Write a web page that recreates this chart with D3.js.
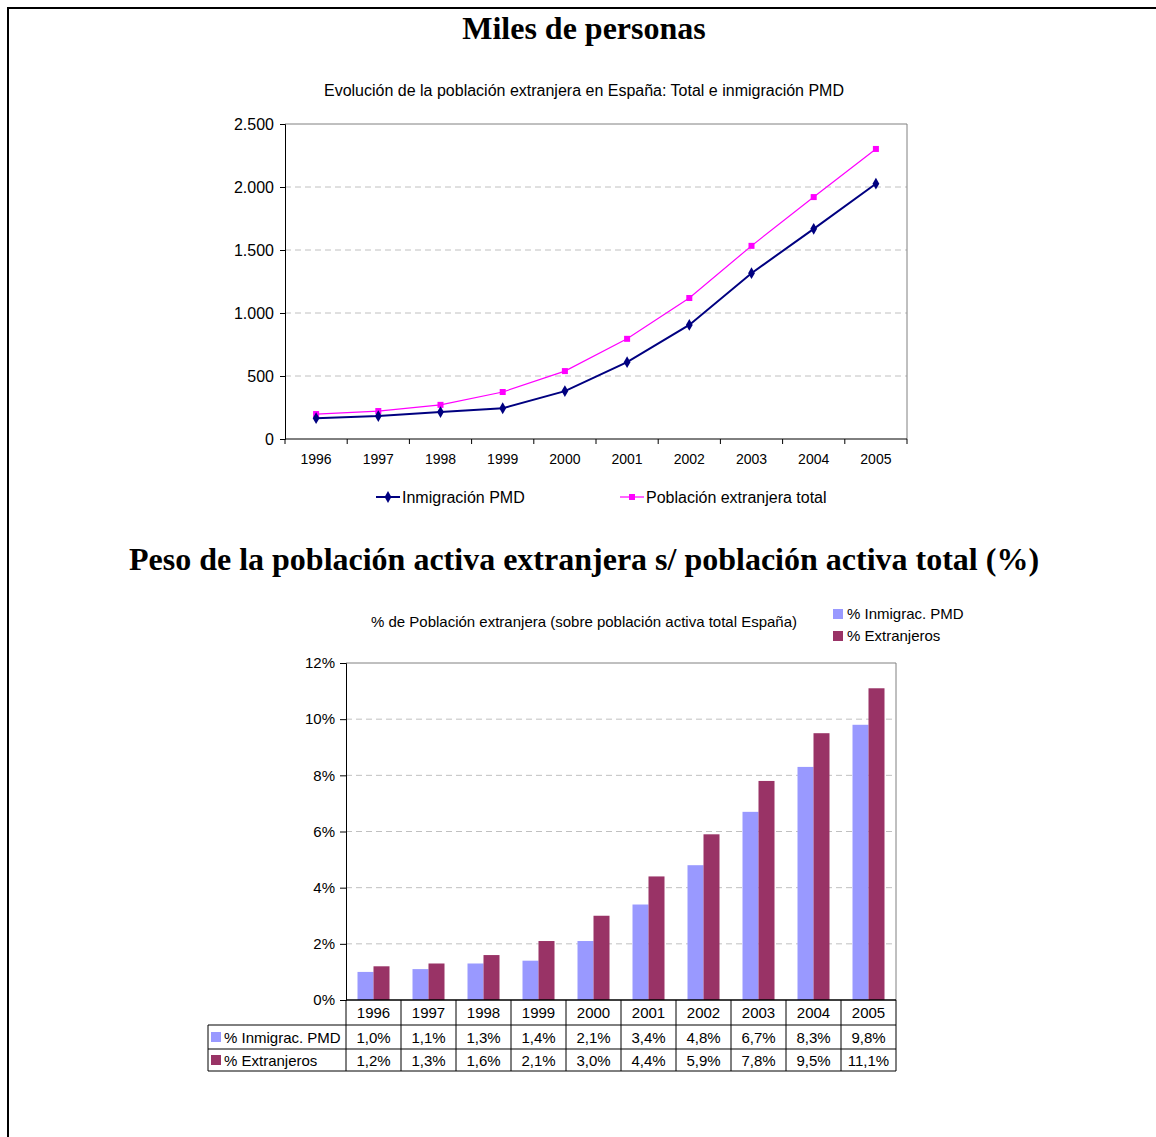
<!DOCTYPE html>
<html><head><meta charset="utf-8">
<script src="https://cdn.jsdelivr.net/npm/d3@7"></script>
<style>
html,body{margin:0;padding:0;background:#fff;}
svg{display:block;}
text{font-family:"Liberation Sans",Arial,sans-serif;fill:#000;}
.serif{font-family:"Liberation Serif","Times New Roman",serif;font-weight:bold;}
</style></head>
<body>
<svg id="c" width="1156" height="1137"></svg>
<script>
// ---- data ----
const years = ["1996","1997","1998","1999","2000","2001","2002","2003","2004","2005"];
const inmigracionPMD = [165, 182, 214, 244, 380, 610, 905, 1316, 1668, 2026];
const poblacionTotal = [198, 222, 271, 373, 539, 795, 1119, 1533, 1920, 2302];
const yTicksTop = [0, 500, 1000, 1500, 2000, 2500];
const pctInmigrac = [1.0, 1.1, 1.3, 1.4, 2.1, 3.4, 4.8, 6.7, 8.3, 9.8];
const pctExtranjeros = [1.2, 1.3, 1.6, 2.1, 3.0, 4.4, 5.9, 7.8, 9.5, 11.1];
const yTicksBottom = [0, 2, 4, 6, 8, 10, 12];
const seriesTop = ["Inmigración PMD", "Población extranjera total"];
const seriesBottom = ["% Inmigrac. PMD", "% Extranjeros"];

const svg = d3.select("#c");
const fmtES = d => d3.format(",")(d).replace(/,/g, ".");
const fmtPct = d => d.toFixed(1).replace(".", ",") + "%";

// page border
svg.append("path").attr("d","M8,1137 L8,8 L1156,8").attr("fill","none").attr("stroke","#000").attr("stroke-width",2);

// titles
svg.append("text").attr("class","serif").attr("x",584).attr("y",39).attr("text-anchor","middle").attr("font-size",32).text("Miles de personas");
svg.append("text").attr("class","serif").attr("x",584).attr("y",570).attr("text-anchor","middle").attr("font-size",32).text("Peso de la población activa extranjera s/ población activa total (%)");

// ================= TOP CHART =================
const t = {l:285, r:907, t:124, b:439};
svg.append("text").attr("x",584).attr("y",96).attr("text-anchor","middle").attr("font-size",16)
  .text("Evolución de la población extranjera en España: Total e inmigración PMD");

const xT = d3.scaleBand().domain(years).range([t.l, t.r]);
const yT = d3.scaleLinear().domain([0, 2500]).range([t.b, t.t]);

const gT = svg.append("g");
// gridlines
gT.selectAll("line.g").data(yTicksTop.filter(v => v > 0 && v < 2500)).enter().append("line")
  .attr("x1",t.l).attr("x2",t.r).attr("y1",d=>yT(d)).attr("y2",d=>yT(d))
  .attr("stroke","#c0c0c0").attr("stroke-dasharray","6,4");
// plot border top/right
gT.append("path").attr("d",`M${t.l},${t.t} L${t.r},${t.t} L${t.r},${t.b}`).attr("fill","none").attr("stroke","#808080");

const yAxT = d3.axisLeft(yT).tickValues(yTicksTop).tickFormat(fmtES).tickSize(5).tickPadding(6);
gT.append("g").attr("transform",`translate(${t.l},0)`).call(yAxT)
  .call(g=>{g.select(".domain").attr("stroke","#000");g.selectAll("text").attr("font-size",16).attr("font-family","Liberation Sans, Arial");g.selectAll("line").attr("stroke","#000");});
// x axis with ticks at band boundaries
const xAxG = gT.append("g").attr("transform",`translate(0,${t.b})`);
xAxG.append("line").attr("x1",t.l).attr("x2",t.r).attr("stroke","#000");
xAxG.selectAll("line.tk").data(d3.range(years.length+1)).enter().append("line")
  .attr("x1",i=>t.l+i*xT.step()).attr("x2",i=>t.l+i*xT.step()).attr("y1",0).attr("y2",5).attr("stroke","#000");
xAxG.selectAll("text").data(years).enter().append("text")
  .attr("x",d=>xT(d)+xT.bandwidth()/2).attr("y",25).attr("text-anchor","middle").attr("font-size",14).text(d=>d);

const line = d3.line().x((d,i)=>xT(years[i])+xT.bandwidth()/2).y(d=>yT(d));
gT.append("path").datum(poblacionTotal).attr("d",line).attr("fill","none").attr("stroke","#FF00FF").attr("stroke-width",1.2);
gT.append("path").datum(inmigracionPMD).attr("d",line).attr("fill","none").attr("stroke","#000080").attr("stroke-width",2);
gT.selectAll("rect.sq").data(poblacionTotal).enter().append("rect")
  .attr("x",(d,i)=>xT(years[i])+xT.bandwidth()/2-3).attr("y",d=>yT(d)-3).attr("width",6).attr("height",6).attr("fill","#FF00FF");
const diamond = d3.symbol().type(d3.symbolDiamond).size(40);
gT.selectAll("path.dm").data(inmigracionPMD).enter().append("path")
  .attr("d",diamond).attr("transform",(d,i)=>`translate(${xT(years[i])+xT.bandwidth()/2},${yT(d)})`).attr("fill","#000080");

// legend top
const legT = svg.append("g");
[[376, seriesTop[0], "#000080", "d"], [620, seriesTop[1], "#FF00FF", "s"]].forEach(([x, lab, col, m]) => {
  legT.append("line").attr("x1",x).attr("x2",x+24).attr("y1",497).attr("y2",497).attr("stroke",col).attr("stroke-width", m==="d"?2:1.2);
  if (m === "d") legT.append("path").attr("d",diamond).attr("transform",`translate(${x+12},497)`).attr("fill",col);
  else legT.append("rect").attr("x",x+9).attr("y",494).attr("width",6).attr("height",6).attr("fill",col);
  legT.append("text").attr("x",x+26).attr("y",503).attr("font-size",16).text(lab);
});

// ================= BOTTOM CHART =================
const b = {l:346, r:896, t:663, b:1000};
svg.append("text").attr("x",584).attr("y",627).attr("text-anchor","middle").attr("font-size",15)
  .text("% de Población extranjera (sobre población activa total España)");
const colors = ["#9999FF", "#993366"];
seriesBottom.forEach((s, i) => {
  svg.append("rect").attr("x",833).attr("y",609+i*22).attr("width",10).attr("height",10).attr("fill",colors[i]);
  svg.append("text").attr("x",847).attr("y",619+i*22).attr("font-size",15).text(s);
});

const xB = d3.scaleBand().domain(years).range([b.l, b.r]);
const xInner = d3.scaleBand().domain([0,1]).range([0, 32]);
const yB = d3.scaleLinear().domain([0, 12]).range([b.b, b.t]);
const gB = svg.append("g");
gB.selectAll("line.g").data(yTicksBottom.filter(v => v > 0 && v < 12)).enter().append("line")
  .attr("x1",b.l).attr("x2",b.r).attr("y1",d=>yB(d)).attr("y2",d=>yB(d))
  .attr("stroke","#c0c0c0").attr("stroke-dasharray","6,4");
gB.append("path").attr("d",`M${b.l},${b.t} L${b.r},${b.t} L${b.r},${b.b}`).attr("fill","none").attr("stroke","#808080");

[pctInmigrac, pctExtranjeros].forEach((arr, si) => {
  gB.selectAll(null).data(arr).enter().append("rect")
    .attr("x",(d,i)=>xB(years[i]) + xB.bandwidth()/2 - 16 + xInner(si))
    .attr("width", xInner.bandwidth())
    .attr("y", d=>yB(d)).attr("height", d=>yB(0)-yB(d)).attr("fill", colors[si]);
});

const yAxB = d3.axisLeft(yB).tickValues(yTicksBottom).tickFormat(d=>d+"%").tickSize(6).tickPadding(5);
gB.append("g").attr("transform",`translate(${b.l},0)`).call(yAxB)
  .call(g=>{g.select(".domain").attr("stroke","#000");g.selectAll("text").attr("font-size",15).attr("font-family","Liberation Sans, Arial");g.selectAll("line").attr("stroke","#000");});

// data table
const rowY = [1000, 1025, 1049, 1071];
const tbl = svg.append("g");
const tl = 208;
tbl.append("line").attr("x1",b.l).attr("x2",b.r).attr("y1",rowY[0]).attr("y2",rowY[0]).attr("stroke","#000").attr("stroke-width",1.5);
tbl.append("line").attr("x1",tl).attr("x2",b.r).attr("y1",rowY[1]).attr("y2",rowY[1]).attr("stroke","#000");
tbl.append("line").attr("x1",tl).attr("x2",b.r).attr("y1",rowY[2]).attr("y2",rowY[2]).attr("stroke","#000");
tbl.append("line").attr("x1",tl).attr("x2",b.r).attr("y1",rowY[3]).attr("y2",rowY[3]).attr("stroke","#000");
tbl.append("line").attr("x1",tl).attr("x2",tl).attr("y1",rowY[1]).attr("y2",rowY[3]).attr("stroke","#000");
tbl.selectAll("line.v").data(d3.range(years.length+1)).enter().append("line")
  .attr("x1",i=>b.l+i*xB.step()).attr("x2",i=>b.l+i*xB.step()).attr("y1",rowY[0]).attr("y2",rowY[3]).attr("stroke","#000");
tbl.selectAll("text.yr").data(years).enter().append("text")
  .attr("x",d=>xB(d)+xB.bandwidth()/2).attr("y",1018).attr("text-anchor","middle").attr("font-size",15).text(d=>d);
[pctInmigrac, pctExtranjeros].forEach((arr, si) => {
  const yy = [1043, 1066][si];
  tbl.selectAll(null).data(arr).enter().append("text")
    .attr("x",(d,i)=>xB(years[i])+xB.bandwidth()/2).attr("y",yy).attr("text-anchor","middle").attr("font-size",15).text(fmtPct);
  tbl.append("rect").attr("x",211).attr("y",yy-11).attr("width",10).attr("height",10).attr("fill",colors[si]);
  tbl.append("text").attr("x",224).attr("y",yy).attr("font-size",15).text(seriesBottom[si]);
});
</script>
</body></html>
